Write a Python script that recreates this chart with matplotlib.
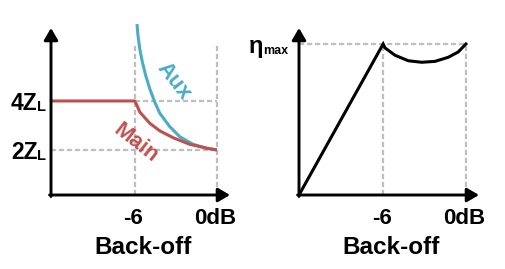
import matplotlib
matplotlib.use('Agg')
import matplotlib.pyplot as plt

plt.rcParams['font.family'] = ['Liberation Sans', 'DejaVu Sans']
plt.rcParams['font.weight'] = 'bold'

RED = '#C0504D'
BLUE = '#4BACC6'
GRID = '#BFBFBF'

# back-off axis (dB), shared by both panels
db_min, db_max = -12.1, 0.95
db_ticks = [-6, 0]
db_labels = ['-6', '0dB']

# left panel: load impedance seen by main / aux (units of ZL)
main_db = [db_min, -6.0, -5.85, -5.63, -4.90, -4.17, -3.20, -1.98, -0.75, 0.0]
main_z = [4.0, 4.0, 3.84, 3.55, 3.09, 2.78, 2.50, 2.23, 2.07, 2.0]
aux_db = [-5.83, -5.76, -5.63, -5.44, -5.20, -4.90, -4.54, -4.17, -3.44, -2.71, -1.74, -0.75, 0.0]
aux_z = [7.14, 6.68, 6.13, 5.59, 5.05, 4.50, 3.96, 3.50, 2.95, 2.54, 2.23, 2.07, 2.0]
z_ticks = [4, 2]
z_labels = ['4Z', '2Z']
z_top = 6.31

# right panel: efficiency (normalised to eta max)
eta_db = [db_min, -6.0, -5.86, -5.13, -4.17, -3.20, -2.24, -1.28, -0.56, 0.0]
eta = [0.0, 1.0, 0.974, 0.925, 0.889, 0.879, 0.885, 0.912, 0.947, 1.0]


def arrow_axes(ax):
    for spine in ax.spines.values():
        spine.set_visible(False)
    ax.set_xticks([])
    ax.set_yticks([])
    ax.patch.set_visible(False)
    kw = dict(arrowstyle='-|>,head_length=0.65,head_width=0.38', lw=2.1,
              color='black', shrinkA=0, shrinkB=0, mutation_scale=11)
    ax.annotate('', xy=(1, 0), xytext=(-0.008, 0), xycoords='axes fraction',
                arrowprops=kw, annotation_clip=False)
    ax.annotate('', xy=(0, 1), xytext=(0, -0.009), xycoords='axes fraction',
                arrowprops=kw, annotation_clip=False)
    for x, lab in zip(db_ticks, db_labels):
        ax.annotate(lab, xy=(x, 0), xycoords=('data', 'axes fraction'),
                    xytext=(-1, -21), textcoords='offset points',
                    ha='center', va='baseline', fontsize=16)
    ax.annotate('Back-off', xy=(0.513, 0), xycoords='axes fraction',
                xytext=(0, -42.5), textcoords='offset points',
                ha='center', va='baseline', fontsize=17.5)


fig = plt.figure(figsize=(5.06, 2.69), dpi=100)
ax1 = fig.add_axes([51 / 506, 74 / 269, 179 / 506, 167 / 269])
ax2 = fig.add_axes([299 / 506, 74 / 269, 180 / 506, 167 / 269])

dash = dict(color=GRID, lw=1.6, ls=(0, (2.3, 1.3)), zorder=1)

# left panel
ax1.set_xlim(db_min, db_max)
ax1.set_ylim(0.16, 6.98)
ax1.plot([-6, -6], [0.16, z_top], **dash)
ax1.plot([0, 0], [0.16, z_top], **dash)
ax1.plot([-6, 0], [z_ticks[0], z_ticks[0]], **dash)
ax1.plot([db_min, 0], [z_ticks[1], z_ticks[1]], **dash)
ax1.plot(aux_db, aux_z, color=BLUE, lw=2.2, zorder=3, clip_on=False,
         solid_capstyle='butt')
ax1.plot(main_db, main_z, color=RED, lw=2.2, zorder=3, solid_capstyle='butt')
ax1.text(-5.9, 2.27, 'Main', color=RED, rotation=-38, fontsize=16,
         ha='center', va='center', rotation_mode='anchor')
ax1.text(-3.12, 4.8, 'Aux', color=BLUE, rotation=-52, fontsize=16,
         ha='center', va='center', rotation_mode='anchor')
for z, lab in zip(z_ticks, z_labels):
    ax1.annotate(lab, xy=(0, z), xycoords=('axes fraction', 'data'),
                 xytext=(-9.6, -6.5), textcoords='offset points',
                 ha='right', va='baseline', fontsize=16.5)
    ax1.annotate('L', xy=(0, z), xycoords=('axes fraction', 'data'),
                 xytext=(-10.4, -7.3), textcoords='offset points',
                 ha='left', va='baseline', fontsize=10.5)
arrow_axes(ax1)

# right panel
ax2.set_xlim(db_min, db_max)
ax2.set_ylim(0, 1.106)
ax2.plot([-6, -6], [0, 1], **dash)
ax2.plot([0, 0], [0, 1], **dash)
ax2.plot([db_min, 0], [1, 1], **dash)
ax2.plot(eta_db, eta, color='black', lw=2.2, zorder=3, solid_joinstyle='miter')
ax2.annotate('max', xy=(0, 1), xycoords=('axes fraction', 'data'),
             xytext=(-7.5, -7), textcoords='offset points',
             ha='right', va='baseline', fontsize=9)
ax2.annotate('η', xy=(0, 1), xycoords=('axes fraction', 'data'),
             xytext=(-26, -6.3), textcoords='offset points',
             ha='right', va='baseline', fontsize=17)
arrow_axes(ax2)

fig.savefig('out.png', dpi=100)
